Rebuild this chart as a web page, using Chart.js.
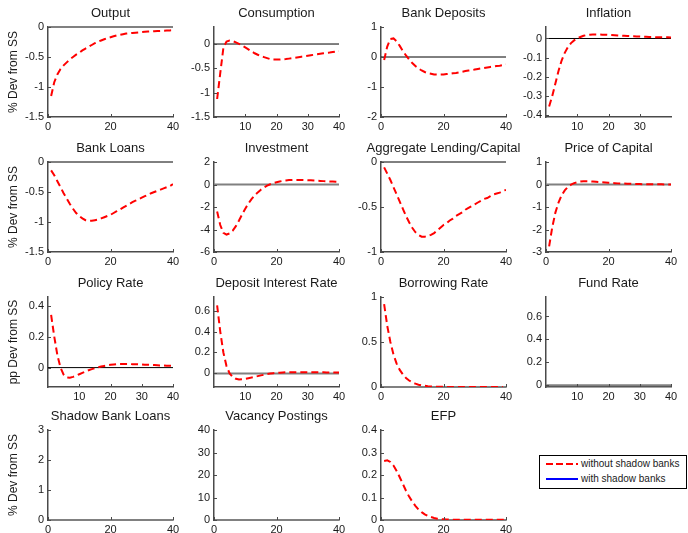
<!DOCTYPE html>
<html>
<head>
<meta charset="utf-8">
<script src="https://cdn.jsdelivr.net/npm/chart.js@4.4.1/dist/chart.umd.min.js"></script>
<style>
  html, body { margin: 0; padding: 0; background: #fff; }
  body { width: 688px; height: 533px; position: relative; overflow: hidden; font-family: "Liberation Sans", Arial, Helvetica, sans-serif; }
  canvas { position: absolute; }
  #legend { position: absolute; left: 539px; top: 455px; width: 148px; height: 34px; box-sizing: border-box; border: 1.5px solid #000; background: #fff; }
  #legend svg { position: absolute; left: 5px; }
  #legend span { position: absolute; left: 41px; font-size: 10px; line-height: 12px; color: #1a1a1a; white-space: nowrap; }
</style>
</head>
<body>
<div id="legend">
  <svg style="top:5px" width="34" height="6"><line x1="1" y1="3" x2="33" y2="3" stroke="#ff0000" stroke-width="2" stroke-dasharray="7 3"/></svg>
  <span style="top:2px">without shadow banks</span>
  <svg style="top:20px" width="34" height="6"><line x1="1" y1="3" x2="33" y2="3" stroke="#0000ff" stroke-width="2"/></svg>
  <span style="top:17px">with shadow banks</span>
</div>
<script>
// ══ DATA ═══════════════════════════════════════════════════════
const periods = [1, 2, 3, 4, 5, 6, 7, 8, 9, 10, 11, 12, 13, 14, 15, 16, 17, 18, 19, 20,
                 21, 22, 23, 24, 25, 26, 27, 28, 29, 30, 31, 32, 33, 34, 35, 36, 37, 38, 39, 40];

const titles = ['Output', 'Consumption', 'Bank Deposits', 'Inflation',
                'Bank Loans', 'Investment', 'Aggregate Lending/Capital', 'Price of Capital',
                'Policy Rate', 'Deposit Interest Rate', 'Borrowing Rate', 'Fund Rate',
                'Shadow Bank Loans', 'Vacancy Postings', 'EFP'];
const yLabels = ['% Dev from SS', '', '', '', '% Dev from SS', '', '', '',
                 'pp Dev from SS', '', '', '', '% Dev from SS', '', ''];

const yMins = [-1.5, -1.5, -2, -0.41, -1.5, -6, -1, -3, -0.125, -0.13, 0, -0.015, 0, 0, 0];
const yMaxs = [0, 0.35, 1, 0.06, 0, 2, 0, 1, 0.455, 0.73, 1, 0.77, 3, 40, 0.4];
const yTicks = [
  [-1.5, -1, -0.5, 0], [-1.5, -1, -0.5, 0], [-2, -1, 0, 1], [-0.4, -0.3, -0.2, -0.1, 0],
  [-1.5, -1, -0.5, 0], [-6, -4, -2, 0, 2], [-1, -0.5, 0], [-3, -2, -1, 0, 1],
  [0, 0.2, 0.4], [0, 0.2, 0.4, 0.6], [0, 0.5, 1], [0, 0.2, 0.4, 0.6],
  [0, 1, 2, 3], [0, 10, 20, 30, 40], [0, 0.1, 0.2, 0.3, 0.4]
];
const xTicks = [
  [0, 20, 40], [10, 20, 30, 40], [0, 20, 40], [10, 20, 30],
  [0, 20, 40], [0, 20, 40], [0, 20, 40], [0, 20, 40],
  [10, 20, 30, 40], [10, 20, 30, 40], [0, 20, 40], [10, 20, 30, 40],
  [0, 20, 40], [0, 20, 40], [0, 20, 40]
];

// without shadow banks
const output = [-1.15, -0.92, -0.79, -0.70, -0.64, -0.59, -0.54, -0.50, -0.46, -0.43,
  -0.39, -0.36, -0.33, -0.30, -0.27, -0.245, -0.225, -0.205, -0.185, -0.17,
  -0.155, -0.14, -0.13, -0.12, -0.11, -0.105, -0.10, -0.095, -0.09, -0.085,
  -0.08, -0.077, -0.074, -0.071, -0.068, -0.065, -0.062, -0.06, -0.057, -0.055];
const consumption = [-1.13, -0.6, -0.08, 0.05, 0.07, 0.06, 0.035, 0.005, -0.03, -0.07,
  -0.11, -0.15, -0.19, -0.22, -0.25, -0.27, -0.29, -0.31, -0.32, -0.32,
  -0.32, -0.315, -0.31, -0.30, -0.29, -0.28, -0.27, -0.26, -0.25, -0.24,
  -0.23, -0.22, -0.21, -0.20, -0.19, -0.18, -0.175, -0.165, -0.155, -0.15];
const bankDeposits = [-0.1, 0.35, 0.6, 0.62, 0.52, 0.37, 0.2, 0.05, -0.08, -0.2,
  -0.3, -0.38, -0.45, -0.5, -0.54, -0.56, -0.58, -0.585, -0.585, -0.58,
  -0.57, -0.56, -0.54, -0.53, -0.51, -0.49, -0.47, -0.45, -0.44, -0.42,
  -0.4, -0.38, -0.37, -0.35, -0.33, -0.32, -0.3, -0.29, -0.27, -0.25];
const inflation = [-0.355, -0.3, -0.235, -0.17, -0.115, -0.075, -0.045, -0.024, -0.01, 0.0,
  0.008, 0.014, 0.018, 0.02, 0.021, 0.021, 0.021, 0.02, 0.02, 0.019,
  0.018, 0.017, 0.016, 0.015, 0.014, 0.013, 0.012, 0.012, 0.011, 0.01,
  0.009, 0.009, 0.008, 0.008, 0.007, 0.007, 0.006, 0.006, 0.006, 0.005];
const bankLoans = [-0.14, -0.22, -0.32, -0.42, -0.52, -0.61, -0.7, -0.78, -0.85, -0.9,
  -0.94, -0.97, -0.98, -0.98, -0.97, -0.96, -0.94, -0.92, -0.9, -0.88,
  -0.85, -0.82, -0.79, -0.76, -0.73, -0.7, -0.67, -0.645, -0.62, -0.595,
  -0.57, -0.545, -0.52, -0.5, -0.48, -0.46, -0.44, -0.42, -0.4, -0.37];
const investment = [-2.4, -3.6, -4.3, -4.45, -4.35, -4.1, -3.7, -3.2, -2.65, -2.15,
  -1.7, -1.3, -0.98, -0.7, -0.46, -0.26, -0.1, 0.02, 0.12, 0.2,
  0.27, 0.32, 0.36, 0.39, 0.4, 0.41, 0.41, 0.4, 0.39, 0.38,
  0.37, 0.35, 0.34, 0.32, 0.3, 0.29, 0.27, 0.26, 0.24, 0.23];
const lendingCapital = [-0.06, -0.13, -0.2, -0.28, -0.36, -0.44, -0.52, -0.6, -0.67, -0.73,
  -0.78, -0.81, -0.83, -0.83, -0.82, -0.81, -0.79, -0.76, -0.73, -0.7,
  -0.68, -0.65, -0.63, -0.6, -0.58, -0.56, -0.53, -0.51, -0.49, -0.47,
  -0.45, -0.43, -0.41, -0.4, -0.38, -0.36, -0.35, -0.34, -0.32, -0.31];
const priceCapital = [-2.75, -1.9, -1.25, -0.8, -0.48, -0.26, -0.11, -0.01, 0.06, 0.1,
  0.13, 0.14, 0.14, 0.14, 0.13, 0.12, 0.11, 0.1, 0.09, 0.08,
  0.07, 0.06, 0.05, 0.045, 0.04, 0.035, 0.03, 0.025, 0.02, 0.02,
  0.015, 0.015, 0.01, 0.01, 0.01, 0.008, 0.006, 0.005, 0.004, 0.003];
const policyRate = [0.34, 0.2, 0.08, 0.0, -0.045, -0.063, -0.065, -0.06, -0.052, -0.043,
  -0.034, -0.025, -0.017, -0.01, -0.004, 0.002, 0.007, 0.011, 0.015, 0.018,
  0.02, 0.022, 0.023, 0.023, 0.023, 0.023, 0.022, 0.022, 0.021, 0.02,
  0.019, 0.018, 0.017, 0.016, 0.015, 0.014, 0.013, 0.012, 0.012, 0.011];
const depositRate = [0.65, 0.4, 0.2, 0.07, 0.0, -0.035, -0.052, -0.058, -0.056, -0.052,
  -0.046, -0.04, -0.033, -0.026, -0.019, -0.013, -0.007, -0.002, 0.002, 0.005,
  0.007, 0.009, 0.01, 0.011, 0.011, 0.012, 0.012, 0.012, 0.012, 0.011,
  0.011, 0.011, 0.01, 0.01, 0.01, 0.009, 0.009, 0.009, 0.008, 0.008];
const borrowingRate = [0.92, 0.68, 0.5, 0.36, 0.26, 0.19, 0.14, 0.1, 0.072, 0.052,
  0.037, 0.026, 0.018, 0.013, 0.009, 0.006, 0.004, 0.003, 0.002, 0.002,
  0.001, 0.001, 0.001, 0.001, 0.001, 0.001, 0.001, 0.001, 0.0, 0.0,
  0.0, 0.0, 0.0, 0.0, 0.0, 0.0, 0.0, 0.0, 0.0];
const fundRate = [];
const shadowLoans = [];
const vacancies = [];
const efp = [0.262, 0.265, 0.258, 0.242, 0.218, 0.19, 0.16, 0.13, 0.104, 0.082,
  0.063, 0.047, 0.035, 0.025, 0.018, 0.013, 0.009, 0.006, 0.004, 0.003,
  0.002, 0.002, 0.001, 0.001, 0.001, 0.001, 0.001, 0.001, 0.001, 0.001,
  0.001, 0.001, 0.001, 0.001, 0.001, 0.001, 0.001, 0.001, 0.001, 0.001];

const series = [output, consumption, bankDeposits, inflation,
                bankLoans, investment, lendingCapital, priceCapital,
                policyRate, depositRate, borrowingRate, fundRate,
                shadowLoans, vacancies, efp];

// ══ LAYOUT & STYLE ═════════════════════════════════════════════
const fontFamily = '"Liberation Sans", Arial, Helvetica, sans-serif';
const textColor = '#1a1a1a';
const axisColor = '#4a4a4a';
const colLeft = [48, 214, 381, 546];
const rowTop = [27, 162, 297, 430];
const plotW = 125, plotH = 90;
const axisW = 46, titleH = 21, xAxisH = 16, padRight = 22;
// zero reference line: g = thick grey, k = thin black
const zeroStyle = ['g', 'k', 'k', 'k', 'k', 'g', 'k', 'g', 'k', 'g', 'g', 'g', 'g', 'g', 'g'];

function fmt(v) { return String(parseFloat(v.toFixed(3))); }

const zeroLine = {
  id: 'zeroLine',
  beforeDatasetsDraw(chart, args, opts) {
    const { ctx, chartArea: a, scales: { y } } = chart;
    if (y.min > 0 || y.max < 0) return;
    const py = y.getPixelForValue(0);
    ctx.save();
    ctx.strokeStyle = opts.color;
    ctx.lineWidth = opts.width;
    ctx.beginPath();
    ctx.moveTo(a.left, py);
    ctx.lineTo(a.right, py);
    ctx.stroke();
    ctx.restore();
  }
};

// matlab-style ticks pointing into the plot
const innerTicks = {
  id: 'innerTicks',
  afterDraw(chart) {
    const { ctx, chartArea: a, scales: { x, y } } = chart;
    ctx.save();
    ctx.strokeStyle = axisColor;
    ctx.lineWidth = 1;
    ctx.beginPath();
    x.ticks.forEach(t => {
      const px = Math.round(x.getPixelForValue(t.value)) + 0.5;
      ctx.moveTo(px, a.bottom); ctx.lineTo(px, a.bottom - 3);
    });
    y.ticks.forEach(t => {
      const py = Math.round(y.getPixelForValue(t.value)) + 0.5;
      ctx.moveTo(a.left, py); ctx.lineTo(a.left + 3, py);
    });
    ctx.stroke();
    ctx.restore();
  }
};

// panel title centred over the plot, allowed to run past its edges
const panelTitle = {
  id: 'panelTitle',
  afterDraw(chart, args, opts) {
    const { ctx, chartArea: a } = chart;
    ctx.save();
    ctx.fillStyle = textColor;
    ctx.font = '13px ' + fontFamily;
    ctx.textAlign = 'center';
    ctx.textBaseline = 'middle';
    ctx.fillText(opts.text, (a.left + a.right) / 2, a.top - 13.5);
    ctx.restore();
  }
};

// ══ PANELS ═════════════════════════════════════════════════════
series.forEach((vals, i) => {
  const col = i % 4, row = Math.floor(i / 4);
  const cv = document.createElement('canvas');
  cv.width = axisW + plotW + padRight;
  cv.height = titleH + plotH + xAxisH;
  cv.style.left = (colLeft[col] - axisW) + 'px';
  cv.style.top = (rowTop[row] - titleH) + 'px';
  document.body.appendChild(cv);

  const zs = zeroStyle[i] === 'g' ? { color: '#808080', width: 2 } : { color: '#000000', width: 1 };

  new Chart(cv, {
    type: 'line',
    data: {
      datasets: [{
        label: 'without shadow banks',
        data: vals.map((v, k) => ({ x: periods[k], y: v })),
        borderColor: '#ff0000', borderWidth: 2, borderDash: [7, 4],
        pointRadius: 0, fill: false, tension: 0
      }]
    },
    options: {
      responsive: false, animation: false, devicePixelRatio: 1,
      layout: { padding: { top: titleH, right: padRight, bottom: 0, left: 0 } },
      plugins: {
        legend: { display: false },
        tooltip: { enabled: false },
        title: { display: false },
        panelTitle: { text: titles[i] },
        zeroLine: zs
      },
      scales: {
        x: {
          type: 'linear', min: 0, max: 40, bounds: 'data',
          afterBuildTicks: s => { s.ticks = xTicks[i].map(v => ({ value: v })); },
          afterFit: s => { s.height = xAxisH; },
          grid: { display: false, drawTicks: false },
          border: { display: true, color: axisColor, width: 1.5 },
          ticks: { autoSkip: false, maxRotation: 0, padding: 3, color: textColor,
                   font: { family: fontFamily, size: 11 }, callback: v => fmt(v) }
        },
        y: {
          type: 'linear', min: yMins[i], max: yMaxs[i], bounds: 'data',
          afterBuildTicks: s => { s.ticks = yTicks[i].map(v => ({ value: v })); },
          afterFit: s => { s.width = axisW; },
          grid: { display: false, drawTicks: false },
          border: { display: true, color: axisColor, width: 1.5 },
          ticks: { autoSkip: false, padding: 4, color: textColor,
                   font: { family: fontFamily, size: 11 }, callback: v => fmt(v) },
          title: { display: !!yLabels[i], text: yLabels[i], color: textColor,
                   font: { family: fontFamily, size: 12, lineHeight: 1.2 },
                   padding: { top: 4.5, bottom: 0 } }
        }
      }
    },
    plugins: [zeroLine, innerTicks, panelTitle]
  });
});
</script>
</body>
</html>
